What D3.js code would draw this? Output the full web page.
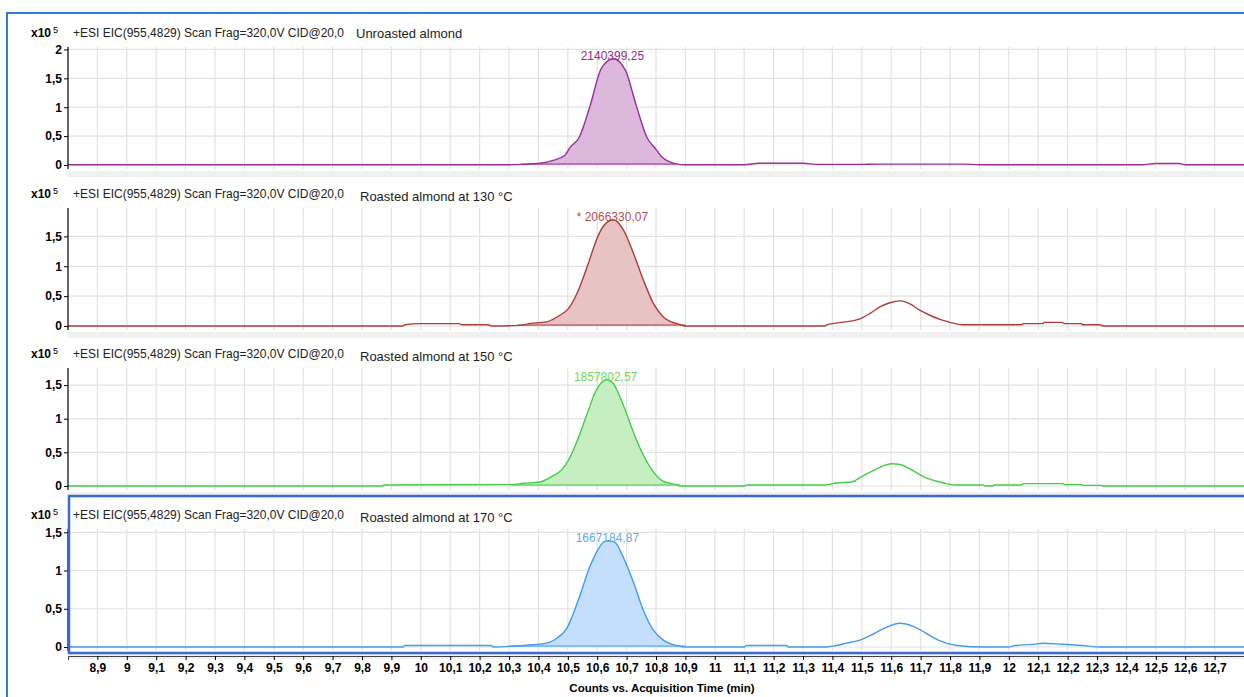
<!DOCTYPE html>
<html>
<head>
<meta charset="utf-8">
<script src="https://cdn.jsdelivr.net/npm/d3@7"></script>
<style>
  body { margin: 0; background: #fff; }
  svg { display: block; font-family: "Liberation Sans", Arial, sans-serif; }
</style>
</head>
<body>
<div class="chromatogram"></div>
<script>
/*globals d3*/
// EIC traces, acquisition time in min, counts in x10^5
const timeUnroasted = [8.8, 10.3, 10.344, 10.405, 10.45, 10.49, 10.507, 10.54, 10.575, 10.615, 10.655, 10.695, 10.734, 10.768, 10.797, 10.824, 10.87, 10.9, 11.1, 11.15, 11.3, 11.35, 11.5, 11.55, 11.85, 11.9, 12.45, 12.5, 12.58, 12.6, 12.8];
const countsUnroasted = [0.005, 0.005, 0.01, 0.03, 0.08, 0.17, 0.3, 0.49, 1.01, 1.68, 1.84, 1.65, 1.01, 0.49, 0.29, 0.12, 0.02, 0.005, 0.005, 0.03, 0.03, 0.01, 0.01, 0.015, 0.015, 0.005, 0.005, 0.025, 0.025, 0.005, 0.005];

const time130 = [8.8, 9.94, 9.945, 10.0, 10.13, 10.14, 10.23, 10.24, 10.337, 10.37, 10.428, 10.473, 10.502, 10.536, 10.57, 10.598, 10.621, 10.655, 10.689, 10.723, 10.757, 10.791, 10.825, 10.87, 10.904, 11.375, 11.38, 11.43, 11.494, 11.528, 11.562, 11.596, 11.63, 11.664, 11.698, 11.732, 11.766, 11.8, 11.845, 12.044, 12.05, 12.116, 12.12, 12.18, 12.19, 12.248, 12.25, 12.31, 12.32, 12.8];
const counts130 = [0.0, 0.0, 0.02, 0.04, 0.04, 0.02, 0.02, 0.0, 0.01, 0.04, 0.07, 0.18, 0.29, 0.6, 1.05, 1.45, 1.67, 1.78, 1.61, 1.22, 0.77, 0.38, 0.15, 0.04, 0.0, 0.0, 0.02, 0.06, 0.12, 0.21, 0.32, 0.39, 0.42, 0.37, 0.26, 0.18, 0.11, 0.06, 0.02, 0.02, 0.04, 0.04, 0.06, 0.06, 0.04, 0.04, 0.02, 0.02, 0.0, 0.0];

const time150 = [8.8, 9.87, 9.875, 10.309, 10.349, 10.405, 10.445, 10.479, 10.502, 10.53, 10.564, 10.593, 10.615, 10.632, 10.655, 10.689, 10.723, 10.757, 10.791, 10.825, 10.87, 10.882, 11.1, 11.11, 11.375, 11.414, 11.466, 11.5, 11.539, 11.573, 11.602, 11.63, 11.67, 11.709, 11.755, 11.789, 11.817, 11.912, 11.92, 11.946, 11.95, 12.044, 12.05, 12.184, 12.19, 12.248, 12.25, 12.316, 12.32, 12.8];
const counts150 = [0.0, 0.0, 0.015, 0.02, 0.04, 0.06, 0.14, 0.24, 0.38, 0.65, 1.05, 1.39, 1.54, 1.58, 1.52, 1.2, 0.8, 0.46, 0.21, 0.07, 0.02, 0.0, 0.0, 0.015, 0.015, 0.045, 0.06, 0.14, 0.23, 0.3, 0.33, 0.32, 0.24, 0.14, 0.07, 0.035, 0.015, 0.015, 0.0, 0.0, 0.015, 0.015, 0.035, 0.035, 0.02, 0.02, 0.01, 0.01, 0.0, 0.0];

const time170 = [8.8, 9.94, 9.945, 10.24, 10.246, 10.309, 10.377, 10.428, 10.468, 10.496, 10.519, 10.541, 10.57, 10.598, 10.621, 10.638, 10.66, 10.689, 10.723, 10.757, 10.791, 10.825, 10.87, 10.904, 11.1, 11.108, 11.244, 11.25, 11.38, 11.414, 11.448, 11.494, 11.539, 11.585, 11.63, 11.675, 11.732, 11.76, 11.823, 11.913, 12.0, 12.015, 12.083, 12.117, 12.185, 12.248, 12.316, 12.8];
const counts170 = [0.0, 0.0, 0.02, 0.02, 0.0, 0.01, 0.03, 0.05, 0.13, 0.24, 0.44, 0.67, 1.0, 1.24, 1.37, 1.39, 1.37, 1.17, 0.85, 0.48, 0.22, 0.09, 0.02, 0.0, 0.0, 0.02, 0.02, 0.0, 0.0, 0.02, 0.05, 0.09, 0.17, 0.26, 0.31, 0.27, 0.15, 0.09, 0.02, 0.0, 0.0, 0.015, 0.035, 0.05, 0.035, 0.02, 0.0, 0.0];

const sampleNames = ["Unroasted almond", "Roasted almond at 130 °C", "Roasted almond at 150 °C", "Roasted almond at 170 °C"];
const peakAreas = ["2140399,25", "* 2066330,07", "1857802,57", "1667184,87"];
const scanTitle = "+ESI EIC(955,4829) Scan Frag=320,0V CID@20,0";
const yTickValues = [[0, 0.5, 1, 1.5, 2], [0, 0.5, 1, 1.5], [0, 0.5, 1, 1.5], [0, 0.5, 1, 1.5]];
const xTickValues = [8.9, 9, 9.1, 9.2, 9.3, 9.4, 9.5, 9.6, 9.7, 9.8, 9.9, 10, 10.1, 10.2, 10.3, 10.4, 10.5, 10.6, 10.7, 10.8, 10.9, 11, 11.1, 11.2, 11.3, 11.4, 11.5, 11.6, 11.7, 11.8, 11.9, 12, 12.1, 12.2, 12.3, 12.4, 12.5, 12.6, 12.7];
// integrated peak window (min)
const peakWindows = [[10.34, 10.87], [10.33, 10.9], [10.309, 10.882], [10.3, 10.9]];

const times = [timeUnroasted, time130, time150, time170];
const counts = [countsUnroasted, counts130, counts150, counts170];

const lineColors = ["#9a2f9a", "#b03b3b", "#45cc45", "#3f9cf5"];
const fillColors = ["#dcb9dc", "#e8c3c3", "#c6efc1", "#c3dffb"];
const labelColors = ["#8e2c8e", "#b4504e", "#6fd95a", "#62a8f4"];

const width = 1244, height = 697;
const left = 68, right = 1244;
const panelTops = [14, 175, 335, 496];
const fmt = (d) => String(d).replace(".", ",");

const svg = d3
  .select(".chromatogram")
  .append("svg")
  .attr("width", width)
  .attr("height", height);

const x = d3.scaleLinear().domain([8.8, 12.8]).range([left, right]);

panelTops.forEach((top, i) => {
  const zeroY = top + 151;
  const plotTop = top + 33;
  const plotBottom = zeroY + 4;
  const pts = times[i].map((t, k) => ({ t: t, v: counts[i][k] }));
  const vmax = d3.max(counts[i]);
  const y = d3.scaleLinear().domain([0, vmax * 1.11]).range([zeroY, plotTop]);

  const g = svg.append("g").attr("class", "panel");

  // gray strip under each panel
  g.append("rect")
    .attr("x", left)
    .attr("y", plotBottom + 2)
    .attr("width", right - left)
    .attr("height", 6)
    .attr("fill", "#f1f1f1");

  // grid
  g.selectAll(".vgrid")
    .data(xTickValues)
    .enter()
    .append("line")
    .attr("x1", (d) => x(d))
    .attr("x2", (d) => x(d))
    .attr("y1", plotTop)
    .attr("y2", plotBottom)
    .attr("stroke", "#e2e2e2")
    .attr("stroke-width", 1.2);

  g.selectAll(".hgrid")
    .data(yTickValues[i])
    .enter()
    .append("line")
    .attr("x1", left)
    .attr("x2", right)
    .attr("y1", (d) => y(d))
    .attr("y2", (d) => y(d))
    .attr("stroke", "#e2e2e2")
    .attr("stroke-width", 1.2);

  // filled main peak
  const win = peakWindows[i];
  const peakPts = pts.filter((d) => d.t >= win[0] && d.t <= win[1]);
  g.append("path")
    .datum(peakPts)
    .attr("fill", fillColors[i])
    .attr(
      "d",
      d3
        .area()
        .curve(d3.curveMonotoneX)
        .x((d) => x(d.t))
        .y0(zeroY)
        .y1((d) => y(d.v))
    );
  g.append("line")
    .attr("x1", x(win[0]))
    .attr("x2", x(win[1]))
    .attr("y1", zeroY - 1)
    .attr("y2", zeroY - 1)
    .attr("stroke", lineColors[i])
    .attr("stroke-width", 1);

  // trace
  g.append("path")
    .datum(pts)
    .attr("fill", "none")
    .attr("stroke", lineColors[i])
    .attr("stroke-width", 1.4)
    .attr(
      "d",
      d3
        .line()
        .curve(d3.curveMonotoneX)
        .x((d) => x(d.t))
        .y((d) => y(d.v))
    );

  // peak label
  const apex = pts.find((d) => d.v === vmax);
  g.append("text")
    .attr("x", x(apex.t) - 1)
    .attr("y", y(apex.v) + 1)
    .attr("text-anchor", "middle")
    .attr("fill", labelColors[i])
    .style("font-size", "12px")
    .text(peakAreas[i]);

  // y axis
  const yAxis = g
    .append("g")
    .attr("transform", `translate(${left}, 0)`)
    .call(d3.axisLeft(y).tickValues(yTickValues[i]).tickSize(4).tickPadding(2).tickFormat(fmt));
  yAxis.select(".domain").remove();
  yAxis.selectAll("text").style("font-size", "12px").style("font-weight", "bold").attr("fill", "#000");
  g.append("line")
    .attr("x1", left)
    .attr("x2", left)
    .attr("y1", plotTop)
    .attr("y2", plotBottom)
    .attr("stroke", "#000")
    .attr("stroke-width", 1.2);

  // header
  g.append("text")
    .attr("x", 31)
    .attr("y", top + 23)
    .style("font-size", "12px")
    .style("font-weight", "bold")
    .text("x10");
  g.append("text")
    .attr("x", 53)
    .attr("y", top + 19)
    .style("font-size", "9px")
    .text("5");
  g.append("text")
    .attr("x", 73)
    .attr("y", top + 23)
    .attr("fill", "#222")
    .style("font-size", "12px")
    .text(scanTitle);
  g.append("text")
    .attr("x", i === 0 ? 356 : 360)
    .attr("y", top + (i === 0 ? 24 : 26))
    .attr("fill", "#222")
    .style("font-size", "13px")
    .text(sampleNames[i]);
});

// selected panel frame
svg
  .append("rect")
  .attr("x", 69)
  .attr("y", 496)
  .attr("width", 1200)
  .attr("height", 157)
  .attr("fill", "none")
  .attr("stroke", "#3a6cc6")
  .attr("stroke-width", 2.5);

// x axis
const xAxis = svg
  .append("g")
  .attr("transform", "translate(0, 656)")
  .call(d3.axisBottom(x).tickValues(xTickValues).tickSize(4).tickPadding(3).tickFormat(fmt));
xAxis.select(".domain").attr("stroke", "#444");
xAxis.selectAll("text").style("font-size", "12px").style("font-weight", "bold").attr("fill", "#000");

svg
  .append("text")
  .attr("x", (left + right) / 2 + 6)
  .attr("y", 692)
  .attr("text-anchor", "middle")
  .style("font-size", "11.5px")
  .style("font-weight", "bold")
  .text("Counts vs. Acquisition Time (min)");

// outer window frame
svg
  .append("rect")
  .attr("x", 7)
  .attr("y", 13)
  .attr("width", 1300)
  .attr("height", 800)
  .attr("fill", "none")
  .attr("stroke", "#2a7fd0")
  .attr("stroke-width", 2);
</script>
</body>
</html>
